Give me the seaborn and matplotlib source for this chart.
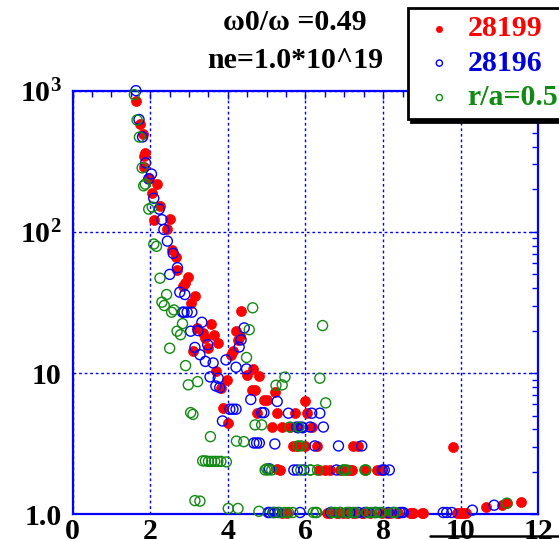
import matplotlib
matplotlib.use("Agg")
import matplotlib.pyplot as plt
import seaborn as sns
import pandas as pd
from matplotlib.lines import Line2D
from matplotlib.ticker import FixedLocator, NullFormatter, LogLocator

# ---------------- data ----------------
red_x = [1.63, 1.73, 1.80, 1.87, 1.83, 1.85, 1.96, 2.18, 2.05, 2.25, 2.09, 2.50, 2.43, 2.56, 2.65,
         2.70, 2.96, 2.89, 2.85, 3.15, 3.05, 3.56, 3.21, 3.35, 3.41, 3.63, 3.75, 3.49, 3.10, 3.69,
         3.97, 3.83, 3.88, 4.01, 4.35, 4.22, 4.31, 4.27, 4.14, 4.07, 4.65, 4.50, 4.80, 4.63, 4.71,
         5.21, 4.93, 5.01, 5.99, 4.74, 5.27, 5.73, 6.03, 5.13, 5.39, 5.60, 6.16, 5.79, 5.67, 5.77,
         5.99, 6.29, 7.23, 7.36, 9.81, 5.34, 6.36, 6.50, 6.63, 6.89, 7.06, 7.15, 7.19, 7.53, 7.83,
         7.94, 5.26, 5.39, 5.52, 6.56, 6.63, 6.80, 6.85, 6.97, 7.06, 7.23, 7.28, 7.45, 7.49, 7.66,
         7.96, 8.09, 8.18, 8.36, 8.39, 8.69, 8.74, 8.78, 9.00, 9.02, 9.90, 9.98, 10.03, 10.07, 10.14,
         10.65, 11.06, 11.19, 11.55]
red_y = [850, 580, 490, 360, 345, 290, 240, 218, 190, 153, 122, 123, 104, 75, 66,
         54, 48, 43.6, 41.3, 35, 31.5, 22.4, 21, 19.3, 17.7, 18.7, 16.3, 15, 14.3, 10.3,
         9.0, 7.8, 5.7, 4.45, 27.4, 19.8, 18.2, 17.2, 14.3, 13.4, 10.7, 9.7, 9.6, 7.6, 7.6,
         7.4, 6.4, 6.4, 6.3, 5.2, 5.2, 5.2, 5.2, 4.15, 4.15, 4.15, 4.15, 4.15, 3.05, 3.05,
         3.05, 3.05, 3.05, 3.05, 3.0, 2.06, 2.06, 2.06, 2.06, 2.06, 2.06, 2.06, 2.06, 2.06, 2.06,
         2.06, 2.1, 1.03, 1.03, 1.03, 1.03, 1.03, 1.03, 1.03, 1.03, 1.03, 1.03, 1.03, 1.03, 1.03,
         1.03, 1.03, 1.03, 1.03, 1.03, 1.03, 1.03, 1.03, 1.03, 1.03, 1.03, 1.03, 1.03, 1.03, 1.03,
         1.13, 1.17, 1.2, 1.23]

blue_x = [1.63, 1.71, 1.80, 1.88, 2.03, 1.96, 2.09, 2.23, 2.30, 2.35, 2.44, 2.59, 2.70, 2.50, 2.76,
          2.89, 2.83, 2.87, 2.95, 3.07, 3.33, 3.04, 3.23, 3.48, 3.15, 3.28, 3.42, 3.62, 3.54, 3.75,
          3.69, 3.79, 4.05, 4.13, 4.21, 3.86, 4.42, 4.34, 4.29, 3.95, 4.21, 4.48, 4.59, 5.27, 4.87,
          4.93, 5.56, 6.16, 6.37, 5.77, 5.90, 6.12, 6.46, 5.81, 5.93, 4.67, 4.74, 4.81, 5.21, 6.24,
          6.85, 7.45, 5.07, 5.70, 5.79, 5.96, 6.80, 8.03, 8.16, 7.98, 5.04, 5.08, 5.16, 5.21, 5.30,
          5.86, 6.65, 6.67, 6.89, 7.14, 7.36, 7.53, 7.58, 7.79, 7.83, 8.13, 8.26, 8.43, 8.48, 8.52,
          9.55, 9.64, 9.77, 10.30, 10.86]
blue_y = [1000, 625, 470, 308, 257, 237, 173, 145, 122, 104, 86, 70.5, 55.8, 50, 37.4,
          36, 27, 27, 27, 27, 22.9, 19.8, 20, 15.9, 15.2, 13.5, 12.1, 11.8, 9.4, 9.2,
          8.1, 7.9, 5.55, 5.55, 5.55, 4.58, 20.9, 17.2, 15.3, 12.4, 11, 10.7, 6.5, 6.3, 5.25,
          5.25, 5.2, 5.2, 5.2, 4.15, 4.15, 4.15, 4.15, 4.1, 4.1, 3.2, 3.2, 3.2, 3.15, 3.05,
          3.05, 3.05, 2.1, 2.06, 2.06, 2.06, 2.06, 2.06, 2.06, 2.06, 1.03, 1.03, 1.03, 1.03, 1.03,
          1.03, 1.03, 1.03, 1.03, 1.03, 1.03, 1.03, 1.03, 1.03, 1.03, 1.03, 1.03, 1.03, 1.03, 1.03,
          1.03, 1.03, 1.03, 1.07, 1.16]

green_x = [1.59, 1.66, 1.72, 1.79, 1.87, 1.83, 1.96, 2.05, 2.09, 2.16, 2.25, 2.42, 2.30, 2.36, 2.55,
           2.61, 2.83, 2.69, 2.78, 2.50, 2.91, 2.98, 3.22, 3.04, 3.10, 3.55, 3.35, 3.42, 3.50, 3.58,
           3.66, 3.74, 3.82, 3.96, 3.15, 3.28, 4.01, 4.26, 4.64, 4.55, 4.48, 5.47, 5.40, 5.24, 6.37,
           6.44, 6.52, 4.22, 4.41, 4.70, 4.87, 5.60, 5.83, 5.81, 5.89, 4.96, 5.04, 5.00, 5.13, 5.88,
           6.12, 6.13, 6.31, 6.97, 7.00, 7.06, 7.53, 7.56, 4.80, 5.18, 5.34, 5.47, 5.56, 5.67, 6.20,
           6.27, 6.29, 6.68, 6.76, 6.89, 7.06, 7.10, 7.23, 7.28, 7.58, 7.70, 7.79, 7.92, 7.96, 8.26,
           8.31, 11.19]
green_y = [936, 620, 469, 284, 218, 212, 145, 150, 82, 79, 47, 36, 31.8, 30.1, 27,
           28, 22.4, 19.8, 18.7, 15, 11.3, 8.26, 8.7, 5.25, 5.1, 3.55, 2.39, 2.39, 2.37, 2.37,
           2.37, 2.37, 2.37, 2.35, 1.25, 1.24, 1.1, 1.1, 29, 20.3, 12.9, 9.37, 8.25, 8.2, 9.2,
           21.7, 6.15, 3.3, 3.27, 4.3, 4.3, 4.15, 4.15, 3.05, 3.05, 2.06, 2.06, 2.1, 2.06, 2.06,
           2.06, 2.06, 2.06, 2.06, 2.06, 2.06, 2.06, 2.06, 1.05, 1.03, 1.03, 1.03, 1.03, 1.03, 1.03,
           1.03, 1.03, 1.03, 1.03, 1.03, 1.03, 1.03, 1.03, 1.03, 1.03, 1.03, 1.03, 1.03, 1.03, 1.03,
           1.03, 1.2]

series_labels = ["28199", "28196", "r/a=0.5"]
series_colors = ["#ff0000", "#0000ff", "#118a11"]
legend_text_colors = ["#ff0000", "#0000dd", "#118a11"]
title_lines = ["ω0/ω =0.49", "ne=1.0*10^19"]
x_ticks = [0, 2, 4, 6, 8, 10, 12]
y_ticks = [1, 10, 100, 1000]
y_ticklabels = ["1.0", "10", r"$\mathbf{10^2}$", r"$\mathbf{10^3}$"]

# ---------------- style ----------------
sns.set_style("white")
plt.rcParams["font.family"] = ["Liberation Serif", "DejaVu Serif"]
plt.rcParams["font.weight"] = "bold"
plt.rcParams["mathtext.fontset"] = "custom"
plt.rcParams["mathtext.rm"] = "Liberation Serif"
plt.rcParams["mathtext.bf"] = "Liberation Serif:bold"
plt.rcParams["mathtext.it"] = "Liberation Serif:italic:bold"

FS = 21.5
fig = plt.figure(figsize=(5.59, 5.39), dpi=100)
ax = fig.add_axes([0.130, 0.0458, 0.833, 0.786])

dfs = [pd.DataFrame({"x": xs, "y": ys}) for xs, ys in
       [(red_x, red_y), (blue_x, blue_y), (green_x, green_y)]]

ms = 52
sns.scatterplot(data=dfs[0], x="x", y="y", ax=ax, s=ms, color=series_colors[0],
                edgecolor=series_colors[0], linewidth=0.5, clip_on=False, zorder=3,
                label=series_labels[0])
sns.scatterplot(data=dfs[1], x="x", y="y", ax=ax, s=ms, facecolors="none",
                edgecolor=series_colors[1], linewidth=1.0, clip_on=False, zorder=4,
                label=series_labels[1])
sns.scatterplot(data=dfs[2], x="x", y="y", ax=ax, s=ms, facecolors="none",
                edgecolor=series_colors[2], linewidth=1.0, clip_on=False, zorder=5,
                label=series_labels[2])

ax.set_yscale("log")
ax.set_xlim(0, 12)
ax.set_ylim(1, 1000)
ax.set_xlabel("")
ax.set_ylabel("")

ax.set_xticks(x_ticks)
ax.set_xticklabels([str(t) for t in x_ticks], fontsize=FS, fontweight="bold")
ax.xaxis.set_minor_locator(FixedLocator([v * 0.5 for v in range(0, 25)]))
ax.set_yticks(y_ticks)
ax.set_yticklabels(y_ticklabels, fontsize=FS, fontweight="bold")
ax.yaxis.set_minor_locator(LogLocator(base=10, subs=range(2, 10), numticks=20))
ax.yaxis.set_minor_formatter(NullFormatter())

blue = "#0000ff"
for sp in ax.spines.values():
    sp.set_color(blue)
    sp.set_linewidth(1.6)
ax.tick_params(which="both", direction="in", colors=blue, top=True, right=True,
               labelcolor="black")
ax.tick_params(which="major", length=6, width=1.0)
ax.tick_params(which="minor", length=4, width=1.0)
ax.tick_params(axis="x", which="major", pad=3)
ax.tick_params(axis="y", which="major", pad=8)

ax.grid(True, which="major", color=blue, linestyle=(0, (2.0, 2.0)), linewidth=1.0)
ax.set_axisbelow(True)

# title lines
fig.text(0.528, 1 - 30 / 539, title_lines[0], ha="center", va="baseline",
         fontsize=FS, fontweight="bold", color="black")
fig.text(0.528, 1 - 68 / 539, title_lines[1], ha="center", va="baseline",
         fontsize=FS, fontweight="bold", color="black")

# legend
leg = ax.legend(loc="upper left", bbox_to_anchor=(408 / 559, 1 - 8 / 539),
                bbox_transform=fig.transFigure, frameon=True, fancybox=False,
                shadow={"color": "black", "alpha": 1.0}, framealpha=1.0, edgecolor="black",
                prop={"family": "Liberation Serif", "weight": "bold", "size": FS},
                markerscale=0.62, handlelength=1.6, handletextpad=0.15,
                labelspacing=0.25, borderpad=0.25, borderaxespad=0)
leg.get_frame().set_linewidth(2.0)
leg.set_zorder(10)
for txt, c in zip(leg.get_texts(), legend_text_colors):
    txt.set_color(c)

# bottom-right rule
fig.add_artist(Line2D([430 / 559, 1.0], [1 - 536 / 539, 1 - 536 / 539],
                      color="black", linewidth=1.8))

fig.savefig("out.png", dpi=100)
